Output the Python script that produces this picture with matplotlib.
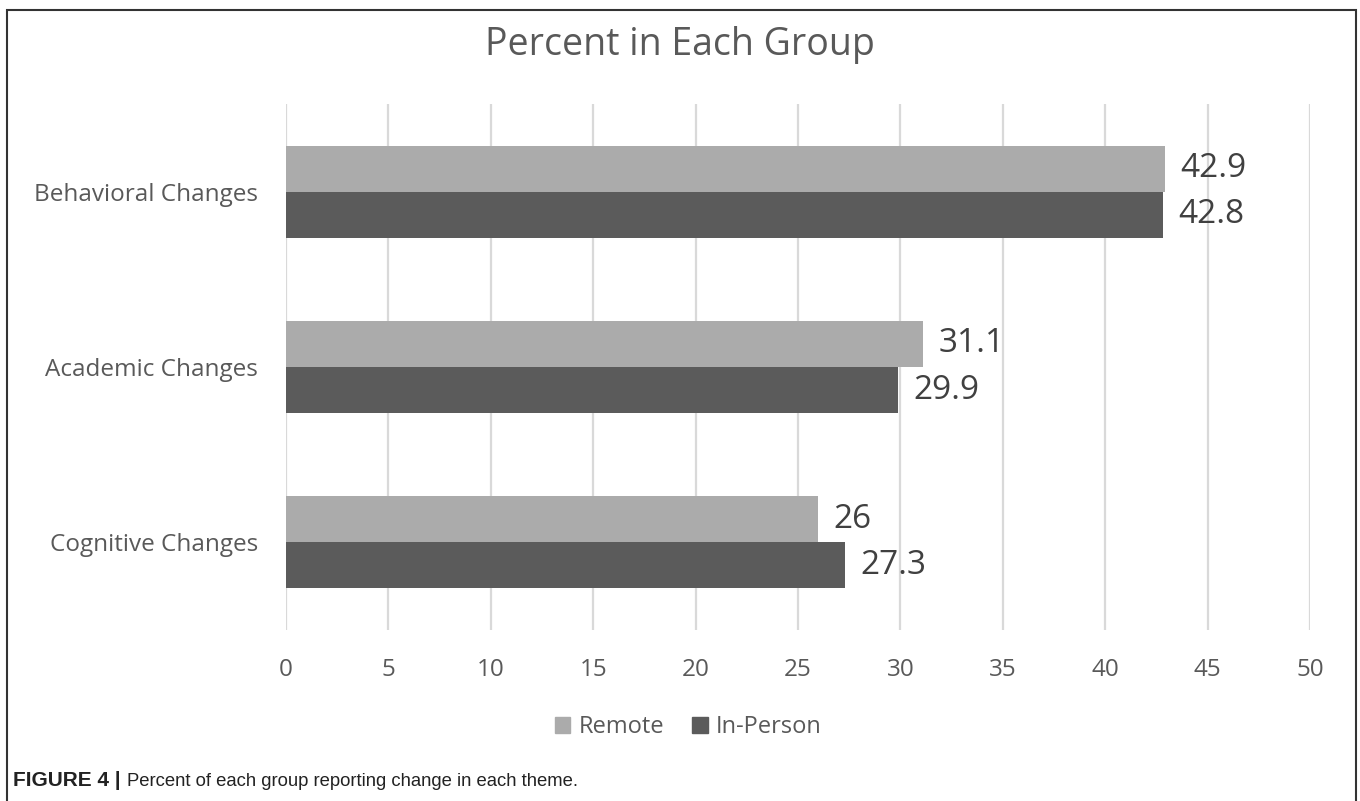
import numpy as np
import matplotlib.pyplot as plt
from matplotlib.patches import Patch, Rectangle

categories = ['Behavioral Changes', 'Academic Changes', 'Cognitive Changes']
remote = [42.9, 31.1, 26]
in_person = [42.8, 29.9, 27.3]
series_names = ['Remote', 'In-Person']
xticks = [0, 5, 10, 15, 20, 25, 30, 35, 40, 45, 50]

c_remote = '#ababab'
c_inperson = '#5b5b5b'
txt = '#595959'

plt.rcParams['font.family'] = ['Open Sans', 'DejaVu Sans']

fig = plt.figure(figsize=(13.6, 8.01), dpi=100)
ax = fig.add_axes([0.2103, 0.2135, 0.7529, 0.6567])

y = np.arange(len(categories))
h = 0.263
ax.barh(y - h / 2, remote, height=h, color=c_remote, zorder=3)
ax.barh(y + h / 2, in_person, height=h, color=c_inperson, zorder=3)

for yi, v in zip(y, remote):
    ax.annotate(f'{v:g}', (v, yi - h / 2), xytext=(11, 0), textcoords='offset points',
                va='center', ha='left', fontsize=24, color='#404040')
for yi, v in zip(y, in_person):
    ax.annotate(f'{v:g}', (v, yi + h / 2), xytext=(11, 0), textcoords='offset points',
                va='center', ha='left', fontsize=24, color='#404040')

ax.set_xlim(0, 50)
ax.set_ylim(2.5, -0.5)
ax.set_xticks(xticks)
ax.set_yticks(y)
ax.set_yticklabels(categories)
ax.tick_params(length=0, labelsize=17.5, labelcolor=txt)
ax.tick_params(axis='x', pad=20)
ax.tick_params(axis='y', pad=20)
ax.grid(axis='x', color='#d9d9d9', lw=1.6, zorder=0)
for s in ax.spines.values():
    s.set_visible(False)

fig.text(0.5, 0.944, 'Percent in Each Group', ha='center', va='center',
         fontsize=27, color=txt)

handles = [Patch(color=c_remote), Patch(color=c_inperson)]
fig.legend(handles, series_names, loc='center', bbox_to_anchor=(0.506, 1 - 727 / 801),
           ncol=2, frameon=False, fontsize=17, handlelength=0.65, handleheight=0.65,
           handletextpad=0.35, columnspacing=1.2, labelcolor=txt)

# outer frame and caption
fig.patches.append(Rectangle((7 / 1360, -0.05), 1349 / 1360, 1.05 - 10 / 801,
                             transform=fig.transFigure, fill=False,
                             edgecolor='#333333', lw=1.5))
fig.text(13 / 1360, 1 - 781 / 801, 'FIGURE 4 |', fontsize=15, fontweight='bold',
         family='Liberation Sans', color='#222222', va='center', ha='left')
fig.text(127 / 1360, 1 - 781 / 801, 'Percent of each group reporting change in each theme.',
         fontsize=13.3, family='Liberation Sans', color='#222222', va='center', ha='left')

fig.savefig('out.png', dpi=100)
